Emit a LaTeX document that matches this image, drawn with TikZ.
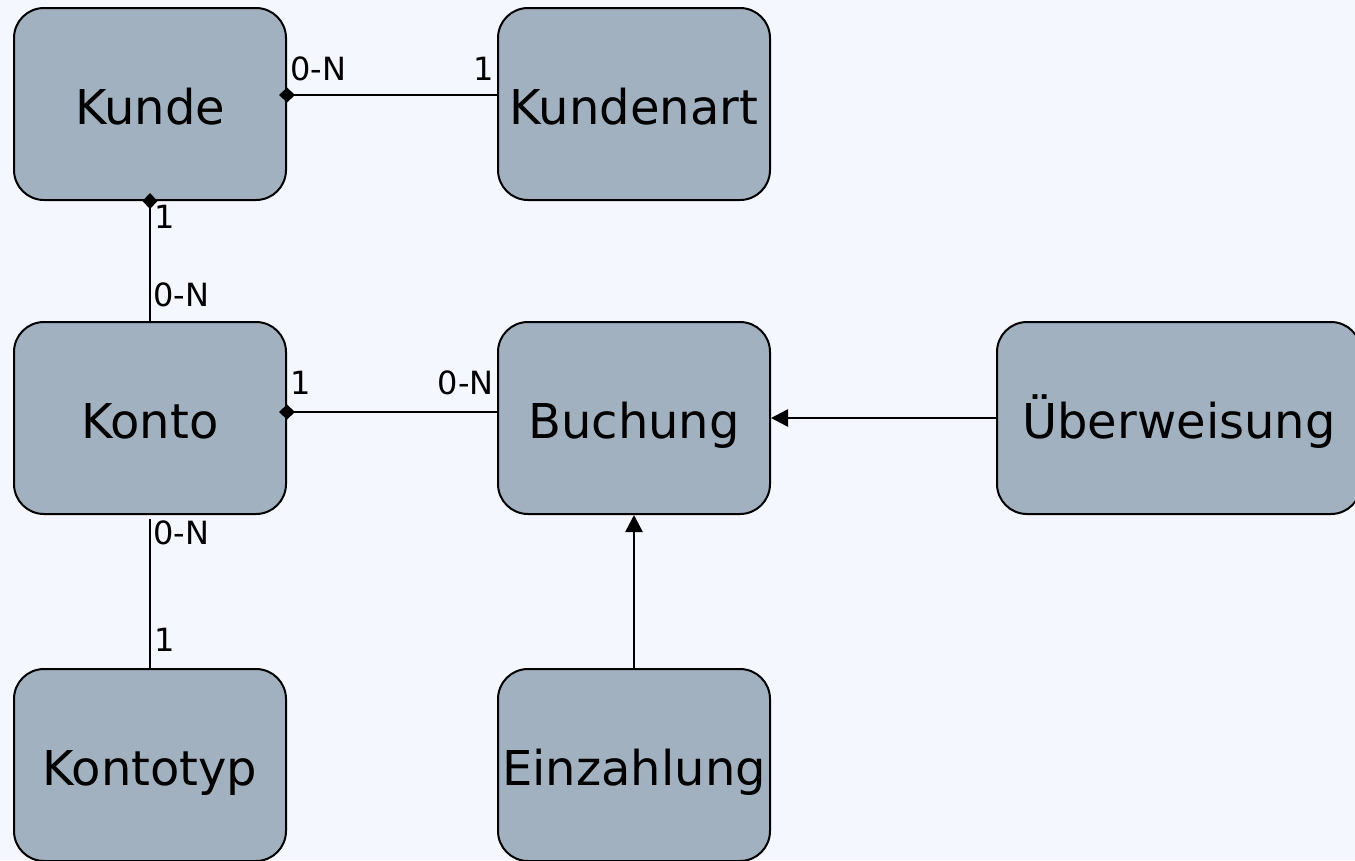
\documentclass[tikz,border=0pt]{standalone}
\usepackage{fontspec}
\setmainfont{DejaVu Sans}
\usetikzlibrary{arrows.meta}
\definecolor{canvas}{RGB}{244,248,254}
\definecolor{entityfill}{RGB}{162,177,192}
\tikzset{
  entity/.style={draw=black, fill=entityfill, line width=2pt, rounded corners=30pt,
    minimum width=272pt, minimum height=192pt, inner sep=0pt,
    text height=40pt, text depth=0pt,
    font=\fontsize{48}{52}\selectfont},
  wide/.style={minimum width=364pt},
  link/.style={line width=2.5pt, black},
  owner/.style={link, {Diamond[length=16pt,width=15pt]}-, shorten <=-8pt},
  isa/.style={link, -{Triangle[length=17pt,width=17pt]}},
  card/.style={inner sep=0pt, font=\fontsize{32}{34}\selectfont}
}
\begin{document}
\begin{tikzpicture}[x=1pt,y=-1pt]
  \useasboundingbox (0,0) rectangle (1355,860);
  \clip (0,0) rectangle (1355,860);
  \fill[canvas] (0,0) rectangle (1355,860);

  % entities
  \node[entity] (kunde)     at (150,104) {Kunde};
  \node[entity] (kundenart) at (634,104) {Kundenart};
  \node[entity] (konto)     at (150,418) {Konto};
  \node[entity] (buchung)   at (634,418) {Buchung};
  \node[entity, wide] (ueberweisung) at (1179,418) {Überweisung};
  \node[entity] (kontotyp)  at (150,765) {Kontotyp};
  \node[entity] (einzahlung) at (634,765) {Einzahlung};

  % relations
  \draw[owner] ([yshift=9pt]kunde.east) -- ([yshift=9pt]kundenart.west);
  \draw[owner] (kunde.south) -- (konto.north);
  \draw[owner] ([yshift=6pt]konto.east) -- ([yshift=6pt]buchung.west);
  \draw[link] ([yshift=-4pt]konto.south) -- (kontotyp.north);

  % specialisations
  \draw[isa] (ueberweisung.west) -- (buchung.east);
  \draw[isa] (einzahlung.north) -- (buchung.south);

  % cardinalities
  \node[card, anchor=base west] (c1) at (290,80)  {0-N};
  \node[card, anchor=base east] (c2) at (494,80)  {1};
  \node[card, anchor=base west] (c3) at (154,228) {1};
  \node[card, anchor=base west] (c4) at (153,306) {0-N};
  \node[card, anchor=base west] (c5) at (290,394) {1};
  \node[card, anchor=base east] (c6) at (494,394) {0-N};
  \node[card, anchor=base west] (c7) at (153,544) {0-N};
  \node[card, anchor=base west] (c8) at (154,651) {1};
\end{tikzpicture}
\end{document}
